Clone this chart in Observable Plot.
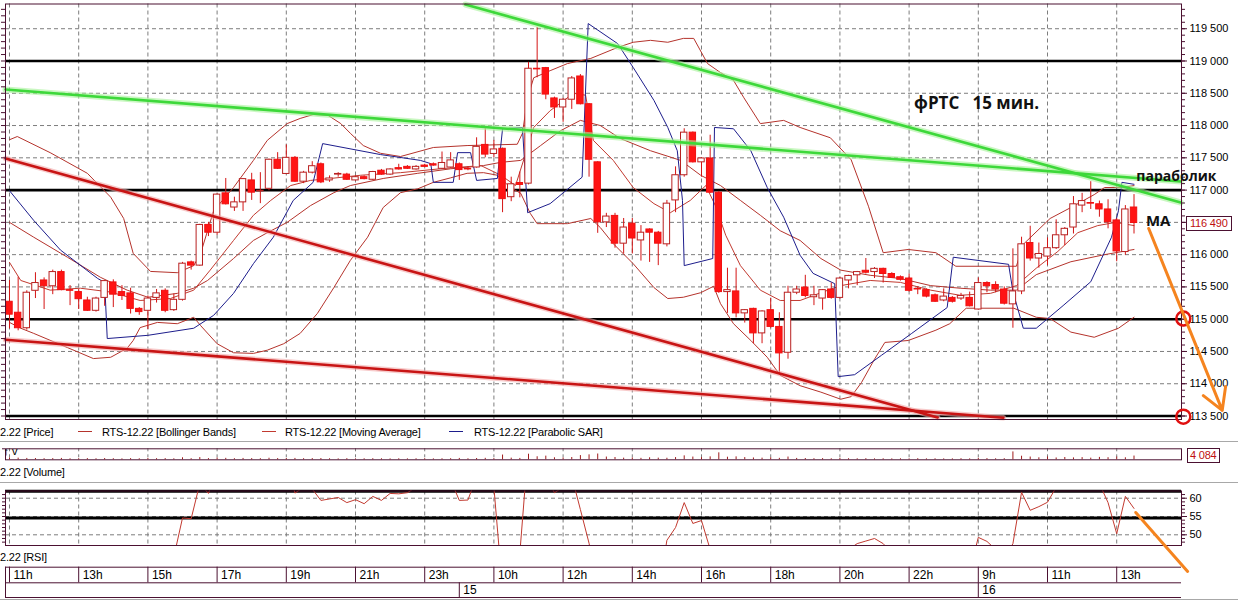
<!DOCTYPE html>
<html><head><meta charset="utf-8">
<script src="https://cdn.jsdelivr.net/npm/d3@7"></script>
<script src="https://cdn.jsdelivr.net/npm/@observablehq/plot@0.6"></script>
<style>
html,body{margin:0;padding:0;background:#fff;}
#root{position:relative;width:1238px;height:601px;overflow:hidden;font-family:"Liberation Sans",Arial,sans-serif;}
.abs{position:absolute;white-space:nowrap;}
.lbl{font-size:11px;letter-spacing:-0.2px;color:#000;line-height:14px;}
svg text{white-space:pre;}
</style></head><body><div id="root"></div>
<script>
// ---------- DATA ----------
const openP = [115270,115100,114860,115440,115600,115510,115730,115450,115420,115290,
115130,115330,115570,115420,115400,115160,115130,115330,115440,115140,
115300,115880,115830,116460,116340,116950,116730,116810,117150,116980,
117020,117470,117250,117500,117130,117270,117400,117150,117240,117240,
117150,117200,117160,117300,117240,117340,117360,117320,117380,117400,
117330,117350,117400,117330,117350,117700,117560,117640,116890,117110,
117100,118880,118890,118420,118280,118400,118760,118330,117430,116500,
116600,116170,116480,116220,116390,116340,116160,116840,117230,117890,
117430,117490,116960,115420,115430,115090,115160,114780,115140,114880,
114480,115410,115490,115340,115320,115460,115330,115600,115680,115750,
115730,115780,115700,115650,115630,115470,115450,115370,115290,115330,
115320,115330,115150,115560,115530,115460,115230,115430,116180,115940,
115970,116100,116300,116420,116760,116800,116780,116700,116530,116040,116730];
const highP = [115600,115650,115440,115720,115640,115760,115760,115520,115460,115340,
115340,115600,115610,115520,115480,115180,115360,115460,115470,115390,
115880,115900,116470,116500,116940,117180,116890,117180,117260,117270,
117480,117580,117700,117520,117290,117440,117420,117220,117270,117260,
117220,117220,117290,117320,117330,117400,117380,117380,117400,117420,
117590,117580,117420,117360,117810,117950,117770,117650,117200,117280,
118980,119520,118900,118440,118420,118760,118790,118340,117440,116640,
116640,116560,116560,116450,116400,116360,116840,117360,117950,117900,
117500,117850,116980,115790,115790,115150,115170,115130,115320,115100,
115510,115510,115680,115510,115460,115560,115650,115680,115740,115940,
115800,115790,115720,115670,115700,115500,115470,115390,115470,115350,
115400,115420,115640,115580,115580,115500,116090,116270,116440,116180,
116260,116540,116420,116900,116950,117130,116830,116850,116560,116760,116930];
const lowP = [114850,114820,114830,115320,115150,115380,115440,115210,115150,115120,
115110,115200,115180,115290,115080,115060,114840,115250,115100,115120,
115280,115760,115820,116280,116300,116770,116670,116670,116840,116790,
116990,117320,117240,117120,117100,117250,117100,117120,117200,117150,
117140,117160,117150,117230,117230,117310,117320,117310,117350,117370,
117320,117340,117150,117300,117340,117500,117500,116650,116820,116880,
117080,118740,118400,118110,118050,118250,118320,117200,116330,116420,
116100,116010,116010,115900,115880,115830,116120,116650,117200,117420,
117200,116950,115400,115090,115020,114940,114620,114620,114860,114160,
114380,115380,115330,115210,115140,115310,115310,115470,115520,115700,
115630,115560,115630,115590,115420,115380,115330,115260,115270,115250,
115290,115190,115140,115410,115410,115220,114860,115380,115900,115790,
115830,116080,116140,116320,116650,116700,116580,116400,115890,115990,116320];
const closeP = [115070,114860,115410,115560,115510,115730,115450,115440,115310,115130,
115320,115590,115380,115360,115160,115110,115320,115400,115130,115300,
115860,115830,116460,116340,116930,116780,116810,117170,116960,116990,
117470,117330,117500,117130,117270,117370,117120,117180,117250,117160,
117200,117170,117280,117240,117320,117320,117330,117360,117360,117380,
117420,117460,117310,117320,117670,117550,117630,116860,117090,117080,
118880,118870,118480,118280,118400,118730,118330,117470,116500,116590,
116170,116420,116250,116340,116340,116170,116790,117230,117890,117430,
117490,116960,115420,115450,115090,115140,114780,115120,114880,114470,
115410,115460,115360,115370,115450,115330,115630,115670,115730,115720,
115780,115700,115640,115610,115440,115460,115350,115270,115350,115270,
115360,115200,115560,115510,115460,115240,115430,116160,115940,116010,
116100,116300,116400,116780,116830,116790,116700,116500,116050,116700,116490];

const volumeV = [2100,1800,1500,1400,1200,1300,1500,1100,1200,1300,1100,1400,1200,1000,1300,1100,1500,1200,1300,1100,
2200,1200,2400,1300,2000,1600,1200,1500,1300,1200,1700,1300,1400,1500,1200,1300,
1400,1100,1000,1200,1000,1100,1200,1100,1000,1100,1000,1100,1200,1000,1100,1200,
1500,1100,1400,1600,1300,5200,1800,1500,6100,3300,4000,2200,2000,2500,4600,5400,
6300,3000,2500,1800,2000,1600,2200,1800,1700,2400,4300,3000,2400,3200,
7600,2800,3200,2400,2000,1800,2200,1600,3000,1500,1400,1200,1300,1100,1600,1200,
1100,1200,1000,1100,1000,1100,1000,1200,1000,1100,1000,1000,1200,1000,1600,1300,1100,1200,
8600,3900,3000,2200,3100,2000,2500,2100,2400,1800,2600,2300,3000,2200,4084];

const rsiV = [42,38,44,45,43,46,42,42,40,37,
41,45,42,41,38,37,42,44,40,44,
54.6,54.4,64,61.3,68,65,66,69,66,66,
70,67,70,61.4,63,62.5,59.4,59.8,60.2,58.8,
59.6,58.5,60.5,59.4,61.3,61.2,61.5,63,63,62.5,
64,65,59.4,59.5,66,63,63,35,40,45,
75,74,66,61.5,63,66,56.9,47.7,35,37,
33,37,35,37,36,34,48.5,52,58.8,53.1,
53.9,46,30,31,28,29,26,32,30,26,
40,41,40,41,42,41,45,46,47.6,48.3,
49,47.6,45,45,42,42,41,40,41,40,
41,40,49.3,48.2,46,43,47.6,61.6,56.7,57.7,
58.9,63,64,67,67,67,64,58.8,50.3,60.5,57.2];

// indicator readings: [candle index, price]
const bbUpper = [[0,117780],[0.9,117830],[4.7,117580],[9,117260],[11.7,116890],[13.2,116560],[14.3,116020],[16.3,115740],[19.4,115720],[21.3,115830],[22.1,116020],[23.6,116680],[25.9,117040],[28.2,117460],[29.8,117770],[32.1,118030],[33.6,118110],[35.1,118170],[36.8,118160],[38.3,118030],[39.4,117880],[40.9,117690],[42.9,117570],[45.2,117520],[49,117660],[52.9,117690],[58.7,117710],[59.3,117880],[59.9,118430],[60.6,118740],[62.5,118850],[64.5,118960],[67.2,119040],[70.3,119210],[72.1,119290],[74.1,119320],[76.1,119290],[77.9,119350],[79.1,119350],[80.7,118960],[82.2,118820],[83.7,118700],[84.9,118430],[86.8,118030],[89.5,118080],[91.4,117970],[94.9,117810],[97.3,117470],[99.3,116750],[101,116030],[103.9,116080],[107.1,116030],[109.4,115820],[116.4,115820],[117.2,116160],[120.3,116560],[122.7,116730],[125.4,116930],[126.6,117040],[128.6,117040],[130,117070]];
const bbLower = [[0,114950],[1.3,114860],[2.8,114780],[6.7,114560],[9.7,114390],[11.7,114410],[13.6,114550],[14.3,114670],[15.1,114870],[17.1,114950],[19.4,114930],[21.3,115030],[22.1,114900],[24,114620],[25.9,114480],[28.2,114470],[29.8,114520],[31.7,114620],[33.6,114780],[35.6,115090],[37.5,115490],[39.4,115910],[41.4,116270],[43.2,116730],[45.2,116960],[47.2,117020],[49,117120],[51,117190],[52.9,117260],[54.8,117270],[56.4,117230],[57.9,117040],[59.1,116950],[60.2,116640],[61,116480],[64.5,116480],[67.2,116560],[68.3,116420],[69.8,116170],[72.1,115860],[74.5,115490],[76.1,115320],[77.9,115340],[79.9,115410],[81.4,115510],[82.2,115240],[83.7,114930],[85.7,114670],[87.6,114410],[89.1,114130],[91.4,113970],[93.8,113870],[96.1,113760],[97.3,113800],[98.5,114020],[100,114380],[101.2,114640],[103.9,114670],[107.1,114830],[108.7,114930],[110.6,115170],[116.1,115170],[118.7,115030],[120.3,115010],[122.7,114800],[125.4,114720],[128.2,114860],[130,115030]];
const bbMiddle = [[0,116500],[2.8,116270],[6.7,115960],[10.5,115650],[13.6,115450],[16,115340],[19.4,115400],[21.3,115480],[22.9,115600],[25.9,115940],[28.2,116220],[29.8,116340],[32.1,116500],[34.8,116760],[37.5,116960],[39.4,117070],[43.2,117180],[47.2,117260],[51,117330],[54.8,117380],[56.8,117430],[59.1,117460],[61.4,117690],[63.7,117920],[66,118080],[68.3,118000],[70.6,117800],[74.1,117610],[77.6,117460],[79.9,117230],[82.2,117070],[84.5,116840],[86.8,116610],[89.1,116370],[91.4,116220],[93.8,115940],[96.1,115760],[99.5,115680],[103,115630],[106.5,115520],[109.9,115480],[113.4,115450],[116.4,115450],[118.7,115690],[122.7,115890],[126.6,116000],[130,116080]];
const maLine = [[0,115880],[1.3,115600],[4.7,115450],[8.2,115480],[11.7,115420],[15.1,115290],[18.6,115320],[21.3,115450],[23.2,115760],[25.9,116220],[28.2,116610],[30.2,116840],[32.5,117070],[34.8,117150],[37.1,117180],[40.6,117230],[45.2,117270],[49.8,117330],[54.5,117380],[56.8,117230],[58.5,117070],[59.9,117660],[60.6,117970],[62.5,118230],[65.2,118500],[66.6,118470],[67.5,117770],[69.8,117460],[72.1,117040],[74.5,116790],[76.4,116650],[78.7,116840],[80.5,117070],[81.6,116760],[82.8,116300],[84.5,115830],[86.8,115450],[89.1,115290],[91.4,115290],[93.8,115410],[96.1,115520],[99.5,115600],[103,115570],[106.5,115450],[109.9,115370],[113.4,115400],[116.4,115520],[118.7,115790],[121.2,116050],[123.5,116340],[125.8,116450],[127.9,116500],[130,116450]];
const sarLine = [[0,116990],[2.8,116530],[5.9,116070],[10.2,115630],[11,115570],[11.3,114700],[16,114750],[21.3,114860],[23.6,115060],[25.9,115400],[28.2,115860],[30.5,116270],[32.8,116840],[35.1,117120],[36.2,117720],[42.9,117550],[47.5,117460],[48.7,117410],[49,117120],[51.3,117120],[51.8,117580],[53.3,117580],[54,117150],[56.4,117180],[57,117950],[59.3,117970],[59.9,116650],[62.5,116790],[66.2,117200],[66.9,119580],[70.3,119270],[72.1,118900],[74.5,118390],[76.1,117970],[77.2,117610],[77.8,116840],[78,115830],[81.3,115940],[81.5,117970],[83.7,117950],[85.7,117610],[87.6,117040],[89.5,116580],[91.4,115990],[92.9,115710],[95.4,115550],[95.8,114110],[97.7,114140],[100.8,114440],[104.3,114780],[108.4,115180],[109.1,115960],[115.5,115850],[116,115430],[117.2,114860],[118.7,114860],[121.8,115210],[125,115580],[127.4,116270],[128.2,116680],[128.6,117120],[130,117090]];

// hand-drawn trend lines: [index, price] end points
const greenLine1 = [[-0.46,118559],[135.4,117133]];
const greenLine2 = [[52.7,119875],[135.4,116808]];
const redLine1 = [[-0.46,117490],[107.3,113478]];
const redLine2 = [[-0.46,114681],[114.9,113473]];
const levels = [119000,117000,115000,113500];
const gridPrices = [114000,114500,115000,115500,116000,116500,117000,117500,118000,118500,119000,119500];
const axisPrices = [113500,114000,114500,115000,115500,116000,116500,117000,117500,118000,118500,119000,119500];
const timeLabels = ["11h","13h","15h","17h","19h","21h","23h","10h","12h","14h","16h","18h","20h","22h","9h","11h","13h"];
const timeIdx = [0,8,16,24,32,40,48,56,64,72,80,88,96,104,112,120,128];
const dateLabels = ["15","16"];
const dateIdx = [52,112];
const rsiTicks = [50,55,60];
const rsiLevels = [54.6,61.9];
const legendNames = ["2.22 [Price]","RTS-12.22 [Bollinger Bands]","RTS-12.22 [Moving Average]","RTS-12.22 [Parabolic SAR]"];
const paneNames = ["2.22 [Volume]","2.22 [RSI]"];
const notes = [
  {i:111.8, p:118342, t:"фРТС   15 мин.", size:17},
  {i:134.9, p:117211, t:"параболик", size:14},
  {i:132.8, p:116522, t:"MA", size:15}
];
const circles = [{i:135.7,p:115010},{i:135.7,p:113490}];
const mainArrow = [{i1:131.7,p1:116405,i2:140.2,p2:113587}];
const rsiArrow = [{i1:130.2,v1:56.1,i2:136.2,v2:40.0}];

// ---------- BUILD ----------
const root = document.getElementById("root");
const N = closeP.length;
const candles = d3.range(N).map(i => ({i, open: openP[i], high: highP[i], low: lowP[i], close: closeP[i]}));
const XDOM = [-0.4624, 135.49];
const FONT = "'Liberation Sans', Arial, sans-serif";
const fmt = d => d3.format(",")(d).replace(/,/g, " ");
const GRID = "#7d7d7d";
const FRAME = "#4b1131";
const BB = "#b5332c";
const baseStyle = {background: "transparent", fontFamily: FONT, fontSize: "11px", color: "black", overflow: "visible"};
const P = d => d[0], V = d => d[1];
const bear = d => d.close < d.open;

function place(el, top) { el.style.position = "absolute"; el.style.left = "0px"; el.style.top = top + "px"; root.appendChild(el); return el; }
function div(cls, left, top, text, extra) {
  const e = document.createElement("div"); e.className = "abs " + cls; e.style.left = left + "px"; e.style.top = top + "px";
  if (text != null) e.textContent = text; if (extra) Object.assign(e.style, extra); root.appendChild(e); return e;
}

const main = Plot.plot({
  width: 1238, height: 421, marginLeft: 5, marginRight: 57, marginTop: 3.5, marginBottom: 2,
  x: {domain: XDOM, axis: null}, y: {domain: [113446, 119883], axis: null},
  color: {type: "identity"},
  style: baseStyle,
  marks: [
    Plot.ruleX(timeIdx, {stroke: GRID, strokeDasharray: "4,3"}),
    Plot.ruleY(gridPrices, {stroke: GRID, strokeDasharray: "4,3"}),
    Plot.ruleY(levels, {stroke: "black", strokeWidth: 2.6}),
    Plot.line(bbUpper, {x: P, y: V, stroke: BB, strokeWidth: 1}),
    Plot.line(bbLower, {x: P, y: V, stroke: BB, strokeWidth: 1}),
    Plot.line(bbMiddle, {x: P, y: V, stroke: BB, strokeWidth: 1}),
    Plot.line(maLine, {x: P, y: V, stroke: "#c23a30", strokeWidth: 1}),
    Plot.line(sarLine, {x: P, y: V, stroke: "#1d1d8c", strokeWidth: 1}),
    Plot.ruleX(candles, {x: "i", y1: "low", y2: "high", stroke: "#d41414", strokeWidth: 1}),
    Plot.rect(candles, {x1: d => d.i - 0.37, x2: d => d.i + 0.37, y1: "open", y2: "close",
      fill: d => bear(d) ? "#ff1414" : "white", stroke: d => bear(d) ? "#f01010" : "#b82020", strokeWidth: 1}),
    Plot.line(greenLine1, {x: P, y: V, stroke: "#a6f29a", strokeWidth: 6, strokeOpacity: 0.6}),
    Plot.line(greenLine2, {x: P, y: V, stroke: "#a6f29a", strokeWidth: 6, strokeOpacity: 0.6}),
    Plot.line(greenLine1, {x: P, y: V, stroke: "#3dd83a", strokeWidth: 2.6}),
    Plot.line(greenLine2, {x: P, y: V, stroke: "#3dd83a", strokeWidth: 2.6}),
    Plot.line(redLine1, {x: P, y: V, stroke: "#f2a8a8", strokeWidth: 5.5, strokeOpacity: 0.6}),
    Plot.line(redLine2, {x: P, y: V, stroke: "#f2a8a8", strokeWidth: 5.5, strokeOpacity: 0.6}),
    Plot.line(redLine1, {x: P, y: V, stroke: "#c81414", strokeWidth: 2.6}),
    Plot.line(redLine2, {x: P, y: V, stroke: "#c81414", strokeWidth: 2.6}),
    Plot.frame({stroke: FRAME}),
    Plot.axisY(d3.range(113500, 119801, 100), {anchor: "left", tickSize: 4, tickFormat: () => "", stroke: FRAME}),
    Plot.axisY(d3.range(113500, 119801, 100), {anchor: "right", tickSize: 3, tickFormat: () => "", stroke: FRAME}),
    Plot.axisY(axisPrices, {anchor: "right", tickSize: 5, tickPadding: 3, tickFormat: fmt, fontSize: 11, stroke: FRAME}),
    Plot.text(notes, {x: "i", y: "p", text: "t", fontSize: d => d.size, fontWeight: "bold", fontFamily: "'Open Sans', sans-serif", fill: "#111", textAnchor: "middle"}),
    Plot.dot(circles, {x: "i", y: "p", r: 7, stroke: "#e01010", strokeWidth: 2.5, fill: "none"}),
    Plot.arrow(mainArrow, {x1: "i1", y1: "p1", x2: "i2", y2: "p2", stroke: "#f5841f", strokeWidth: 3, headLength: 12})
  ]
});
place(main, 0);

// last price label (covers the axis label behind it)
const yLast = main.scale("y").apply(closeP[N - 1]);
div("lbl", 1186, Math.round(yLast - 7), fmt(closeP[N - 1]), {border: "1px solid " + FRAME, color: "#c01010", padding: "0 3px", height: "13px", lineHeight: "13px", background: "white"});

// legend row
div("lbl", 0, 424.5, legendNames[0]);
div("", 78, 431, null, {width: "14px", height: "1px", background: BB});
div("lbl", 102, 424.5, legendNames[1]);
div("", 262, 431, null, {width: "14px", height: "1px", background: "#c23a30"});
div("lbl", 285, 424.5, legendNames[2]);
div("", 449, 431, null, {width: "14px", height: "1px", background: "#1d1d8c"});
div("lbl", 474, 424.5, legendNames[3]);
div("", 0, 441, null, {width: "1238px", height: "1px", background: "#a8a8a8"});

// volume panel
const volData = volumeV.map((v, i) => ({i, v}));
const vol = Plot.plot({
  width: 1238, height: 20, marginLeft: 5, marginRight: 57, marginTop: 4.3, marginBottom: 4.7,
  x: {domain: XDOM, axis: null}, y: {domain: [0, 12000], axis: null},
  style: baseStyle,
  marks: [
    Plot.ruleX(timeIdx, {stroke: GRID, strokeDasharray: "3,3"}),
    Plot.ruleX(volData, {x: "i", y1: 0, y2: "v", stroke: "#a01c1c"}),
    Plot.frame({stroke: FRAME}),
    Plot.axisY([12000], {anchor: "left", tickSize: 3, tickFormat: () => "", stroke: FRAME})
  ]
});
place(vol, 444);
div("lbl", 1187, 447.5, fmt(volumeV[N - 1]), {border: "1px solid " + FRAME, color: "#c01010", padding: "0 2px", height: "13px", lineHeight: "13px", background: "white"});
div("lbl", 0, 465, paneNames[0]);
div("", 0, 482, null, {width: "1238px", height: "1px", background: "#a8a8a8"});

// RSI panel
const rsiData = rsiV.map((v, i) => ({i, v}));
const rsi = Plot.plot({
  width: 1238, height: 92, marginLeft: 5, marginRight: 57, marginTop: 6.5, marginBottom: 31,
  x: {domain: XDOM, axis: null}, y: {domain: [47.08, 61.97], axis: null},
  style: baseStyle,
  marks: [
    Plot.ruleX(timeIdx, {stroke: GRID, strokeDasharray: "4,3"}),
    Plot.ruleY(rsiTicks, {stroke: GRID, strokeDasharray: "4,3"}),
    Plot.ruleY(rsiLevels, {stroke: "black", strokeWidth: 3}),
    Plot.line(rsiData, {x: "i", y: "v", stroke: "#c23a30", strokeWidth: 1, clip: true}),
    Plot.frame({stroke: FRAME}),
    Plot.axisY(d3.range(48, 62, 1), {anchor: "left", tickSize: 3, tickFormat: () => "", stroke: FRAME}),
    Plot.axisY(d3.range(48, 62, 1), {anchor: "right", tickSize: 3, tickFormat: () => "", stroke: FRAME}),
    Plot.axisY(rsiTicks, {anchor: "right", tickSize: 5, tickPadding: 3, fontSize: 11, stroke: FRAME}),
    Plot.arrow(rsiArrow, {x1: "i1", y1: "v1", x2: "i2", y2: "v2", stroke: "#f5841f", strokeWidth: 3, headLength: 0})
  ]
});
place(rsi, 484);
div("lbl", 0, 549.5, paneNames[1]);

// time axis
const tAxis = Plot.plot({
  width: 1238, height: 39, marginLeft: 5, marginRight: 57, marginTop: 0, marginBottom: 0,
  x: {domain: XDOM, axis: null}, y: {domain: [0, 39], range: [0, 39], axis: null},
  style: baseStyle,
  marks: [
    Plot.ruleY([4.7, 20.3, 35], {stroke: FRAME}),
    Plot.ruleX([XDOM[0]], {y1: 4.7, y2: 35, stroke: FRAME}),
    Plot.ruleX(timeIdx, {y1: 4.7, y2: 20.3, stroke: FRAME}),
    Plot.ruleX(dateIdx, {y1: 20.3, y2: 35, stroke: FRAME}),
    Plot.text(timeIdx, {x: d => d, y: 12.8, text: (d, k) => timeLabels[k], textAnchor: "start", dx: 4, fontSize: 12, fill: "black"}),
    Plot.text(dateIdx, {x: d => d, y: 28, text: (d, k) => dateLabels[k], textAnchor: "start", dx: 4, fontSize: 12, fill: "black"})
  ]
});
place(tAxis, 562);
div("", 0, 599, null, {width: "1238px", height: "1px", background: "#a8a8a8"});
</script></body></html>
